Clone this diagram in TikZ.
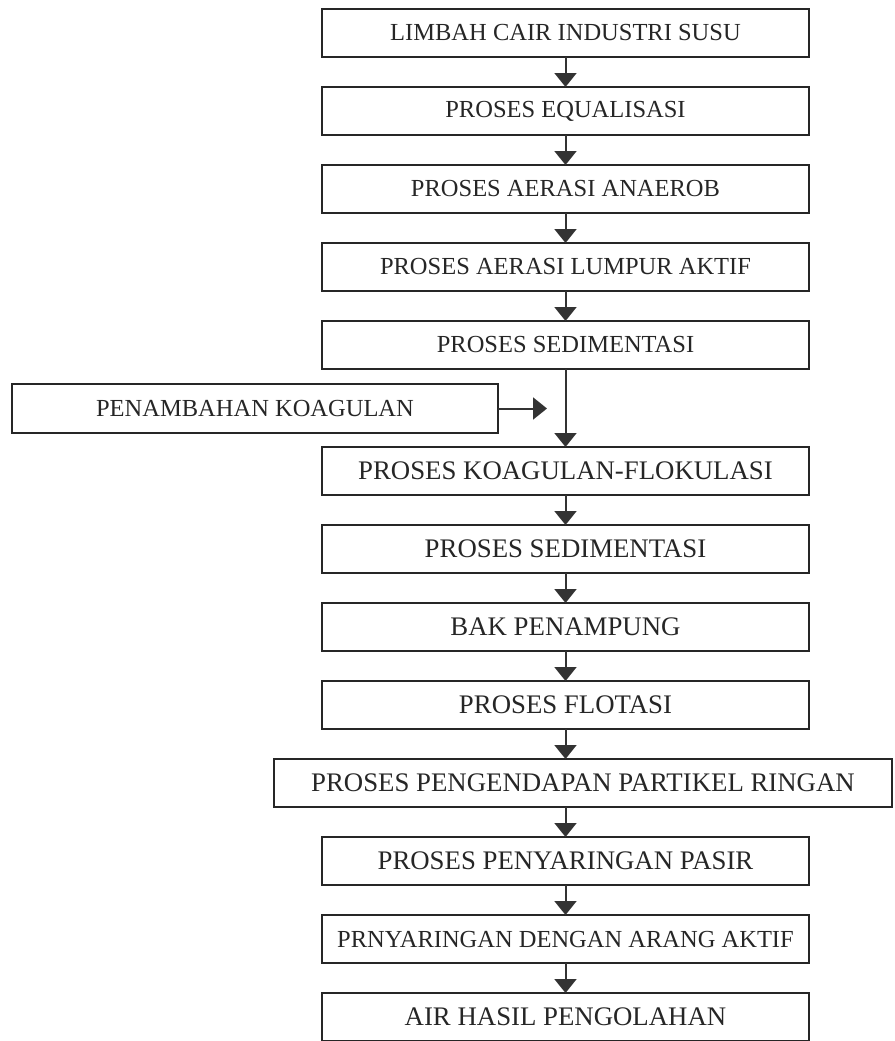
\documentclass[tikz,border=0pt]{standalone}
\usepackage{fontspec}
\setmainfont{Liberation Serif}
\usetikzlibrary{positioning,arrows.meta}

\begin{document}
\begin{tikzpicture}[
  x=1pt,y=1pt,
  node distance=30pt,
  procnode/.style={draw=black!85,line width=1.6pt,minimum width=487pt,minimum height=48pt,inner sep=0pt,outer sep=0pt,text=black!85,font=\fontsize{24.5}{28}\selectfont},
  ]
  \tikzset{%
    big text/.style={
      font=\fontsize{26.8}{30}\selectfont,
    },
    flow/.style={
      -{Triangle[width=22pt,length=14pt]},
      line width=2pt,
      color=black!80,
    },
  }
  \useasboundingbox (0,0) rectangle (894,-1041);
  %Nodes
  \node[procnode](limbah) at (565.5,-33){LIMBAH CAIR INDUSTRI SUSU};
  \node[procnode](equal)[below=of limbah]{PROSES EQUALISASI};
  \node[procnode](anaerob)[below=of equal]{PROSES AERASI ANAEROB};
  \node[procnode](lumpur)[below=of anaerob]{PROSES AERASI LUMPUR AKTIF};
  \node[procnode](sedimA)[below=of lumpur]{PROSES SEDIMENTASI};
  \node[procnode,minimum width=486pt,minimum height=49pt](tambah) at (255,-408.5){PENAMBAHAN KOAGULAN};
  \coordinate[right=49pt of tambah.east](join);
  \node[procnode,big text](koag)[below=78pt of sedimA]{PROSES KOAGULAN-FLOKULASI};
  \node[procnode,big text](sedimB)[below=of koag]{PROSES SEDIMENTASI};
  \node[procnode,big text](bak)[below=of sedimB]{BAK PENAMPUNG};
  \node[procnode,big text](flotasi)[below=of bak]{PROSES FLOTASI};
  \node[procnode,big text,minimum width=618pt,xshift=17.5pt](endap)[below=of flotasi]{PROSES PENGENDAPAN PARTIKEL RINGAN};
  \node[procnode,big text,xshift=-17.5pt](pasir)[below=of endap]{PROSES PENYARINGAN PASIR};
  \node[procnode](arang)[below=of pasir]{PRNYARINGAN DENGAN ARANG AKTIF};
  \node[procnode,big text](hasil)[below=of arang]{AIR HASIL PENGOLAHAN};
  \coordinate (endapin) at (flotasi.south |- endap.north);
  \coordinate (endapout) at (pasir.north |- endap.south);
  %Lines
  \path[every edge/.style={draw,flow}]
    (limbah) edge (equal)
    (equal) edge (anaerob)
    (anaerob) edge (lumpur)
    (lumpur) edge (sedimA)
    (sedimA) edge (koag)
    (tambah.east) edge (join)
    (koag) edge (sedimB)
    (sedimB) edge (bak)
    (bak) edge (flotasi)
    (flotasi.south) edge (endapin)
    (endapout) edge (pasir.north)
    (pasir) edge (arang)
    (arang) edge (hasil)
    ;
\end{tikzpicture}
\end{document}
